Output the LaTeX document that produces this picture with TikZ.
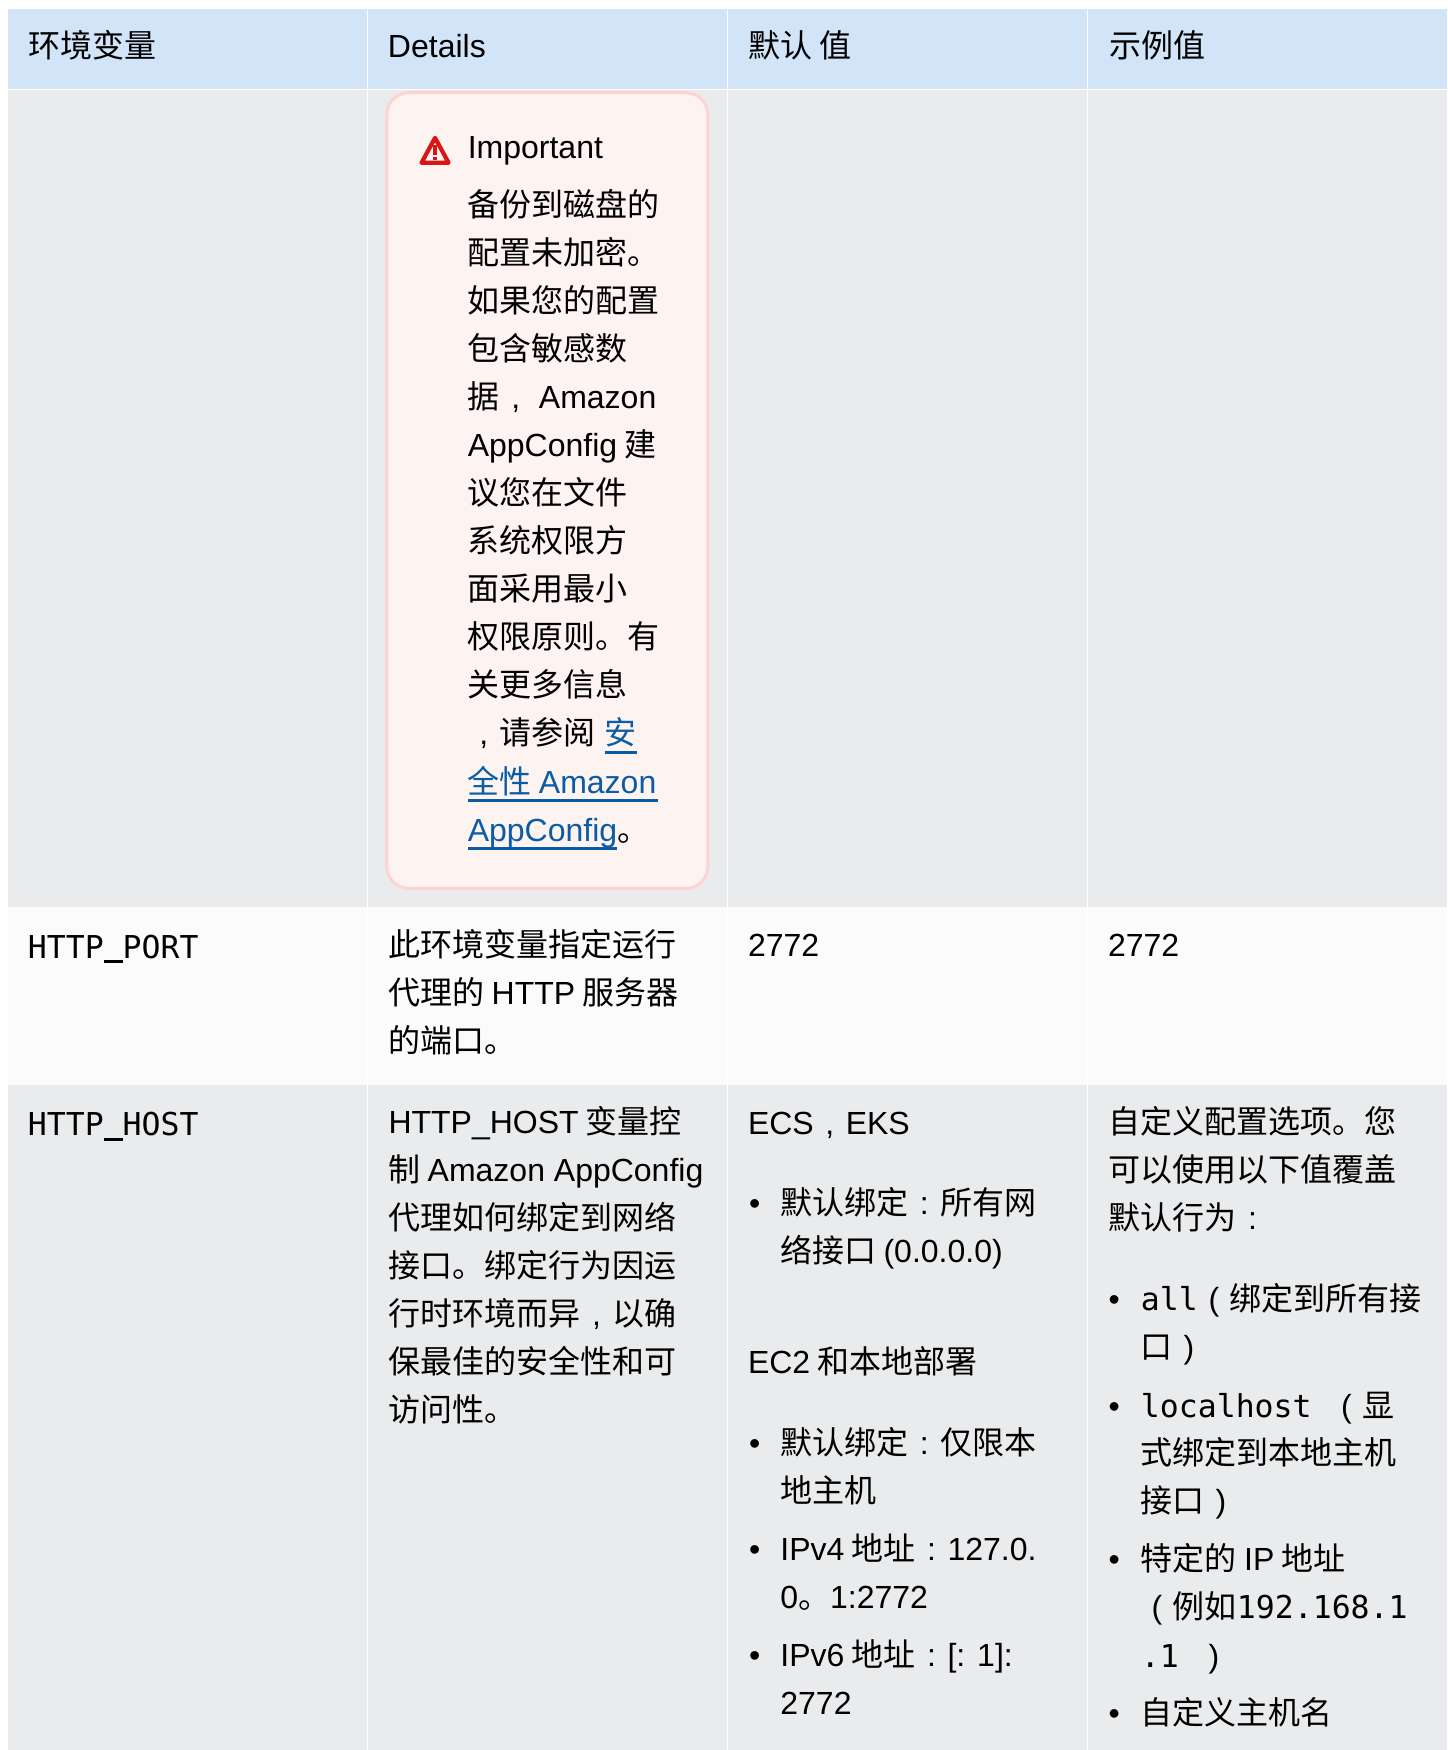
\documentclass[tikz,border=0pt]{standalone}
\usepackage{fontspec}
\setmainfont{Noto Sans CJK SC}
\newfontfamily\enf{Liberation Sans}
\newfontfamily\mof[Scale=0.984]{DejaVu Sans Mono}
\newcommand{\en}[1]{{\enf #1}}
\newcommand{\mo}[1]{{\mof #1}}
% punctuation centred in a full-width cell, as the reference prints it
\newcommand{\zc}[1]{\makebox[1em][c]{\enf #1}}
\newcommand{\mus}{\makebox[18.97pt][c]{\rule[-5.2pt]{18.97pt}{3.2pt}}}
\definecolor{headbg}{HTML}{D2E5F8}
\definecolor{rowgrey}{HTML}{E9EBED}
\definecolor{rowpale}{HTML}{FBFBFB}
\definecolor{boxfill}{HTML}{FDF3F1}
\definecolor{boxline}{HTML}{FFD3D3}
\definecolor{warnred}{HTML}{D91515}
\definecolor{linkblue}{HTML}{0B5CA5}
\newcount\tlno
\newcommand{\tl}[3]{\global\advance\tlno by 1 \node[txt,name=t\the\tlno] at (#1,#2+10.9) {#3};}
\newcommand{\bl}[2]{\global\advance\tlno by 1 \node[txt,name=t\the\tlno] at (#1,#2+10.9) {\en{•}};}
\tikzset{
  txt/.style={anchor=base west,inner sep=0pt,outer sep=0pt,font=\fontsize{32}{36}\selectfont,text=black},
  linkline/.style={draw=linkblue,line width=2.6pt},
}
\begin{document}
\begin{tikzpicture}[x=1.11642pt,y=-1.11607pt]
\useasboundingbox (0,0) rectangle (1297,1568);
\fill[white] (0,0) rectangle (1297,1568);
% header and rows
\foreach \a/\b in {7/329,330/651.4,652.4/973.6,974.6/1296.4}{
  \fill[headbg] (\a,8.3) rectangle (\b,79.5);
  \fill[rowgrey] (\a,81) rectangle (\b,812.3);
  \fill[rowpale] (\a,812.3) rectangle (\b,972.2);
  \fill[rowgrey] (\a,972.2) rectangle (\b,1568);
}
\tl{25.5}{41}{环境变量}
\tl{347.5}{41}{\en{Details}}
\tl{670.5}{41}{默认 值}
\tl{993.5}{41}{示例值}
% important box
\draw[draw=boxline,fill=boxfill,line width=3pt,rounded corners=22pt] (346.5,83) rectangle (634,796);
\draw[warnred,line width=4.2pt,line join=round,fill=none] (389.7,123.5) -- (401.8,145.8) -- (377.6,145.8) -- cycle;
\fill[warnred] (388,130) rectangle (391.4,139);
\fill[warnred] (388,140.6) rectangle (391.4,143.8);
\tl{419}{131}{\en{Important}}
\tl{419}{183}{备份到磁盘的}
\tl{419}{226}{配置未加密。}
\tl{419}{269}{如果您的配置}
\tl{419}{312}{包含敏感数}
\tl{419}{355}{据\zc{,} \en{Amazon}}
\tl{419}{398}{\en{AppConfig} 建}
\tl{419}{441}{议您在文件}
\tl{419}{484}{系统权限方}
\tl{419}{527}{面采用最小}
\tl{419}{570}{权限原则。有}
\tl{419}{613}{关更多信息}
\tl{419}{656}{\zc{,}请参阅}
\tl{541.5}{656}{\textcolor{linkblue}{安}}
\tl{419}{700}{\textcolor{linkblue}{全性 \en{Amazon}}}
\tl{419}{743}{\textcolor{linkblue}{\en{AppConfig}}。}
\draw[linkline] (542,674) -- (571,674);
\draw[linkline] (419.5,717) -- (589.5,717);
\draw[linkline] (419.5,760) -- (553,760);
% HTTP_PORT
\tl{25}{847.6}{\mo{HTTP\mus PORT}}
\tl{348}{846}{此环境变量指定运行}
\tl{348}{889}{代理的 \en{HTTP} 服务器}
\tl{348}{932}{的端口。}
\tl{670}{846}{\en{2772}}
\tl{992.5}{846}{\en{2772}}
% HTTP_HOST
\tl{25}{1006.6}{\mo{HTTP\mus HOST}}
\tl{348}{1005}{\en{HTTP\_HOST} 变量控}
\tl{348}{1048}{制 \en{Amazon AppConfig}}
\tl{348}{1091}{代理如何绑定到网络}
\tl{348}{1134}{接口。绑定行为因运}
\tl{348}{1177}{行时环境而异\zc{,}以确}
\tl{348}{1220}{保最佳的安全性和可}
\tl{348}{1263}{访问性。}
% default column
\tl{670}{1006}{\en{ECS}\zc{,}\en{EKS}}
\bl{671}{1077}
\tl{699}{1077}{默认绑定\zc{:}所有网}
\tl{699}{1120}{络接口 \en{(0.0.0.0)}}
\tl{670}{1220}{\en{EC2} 和本地部署}
\bl{671}{1292}
\tl{699}{1292}{默认绑定\zc{:}仅限本}
\tl{699}{1335}{地主机}
\bl{671}{1387}
\tl{699}{1387}{\en{IPv4} 地址\zc{:}\en{127.0.}}
\tl{699}{1430}{\en{0}。\en{1:2772}}
\bl{671}{1482}
\tl{699}{1482}{\en{IPv6} 地址\zc{:}\en{[: 1]:}}
\tl{699}{1525}{\en{2772}}
% example column
\tl{993}{1005}{自定义配置选项。您}
\tl{993}{1048}{可以使用以下值覆盖}
\tl{993}{1091}{默认行为\zc{:}}
\bl{993}{1163}
\tl{1022}{1163}{\mo{all}\zc{(}绑定到所有接}
\tl{1022}{1206}{口\zc{)}}
\bl{993}{1259}
\tl{1022}{1259}{\mo{localhost }\zc{(}显}
\tl{1022}{1301}{式绑定到本地主机}
\tl{1022}{1344}{接口\zc{)}}
\bl{993}{1396}
\tl{1022}{1396}{特定的 \en{IP} 地址}
\tl{1022}{1439}{\zc{(}例如\mo{192.168.1}}
\tl{1022}{1483}{\mo{.1 }\zc{)}}
\bl{993}{1534}
\tl{1022}{1534}{自定义主机名}
\end{tikzpicture}
\end{document}
